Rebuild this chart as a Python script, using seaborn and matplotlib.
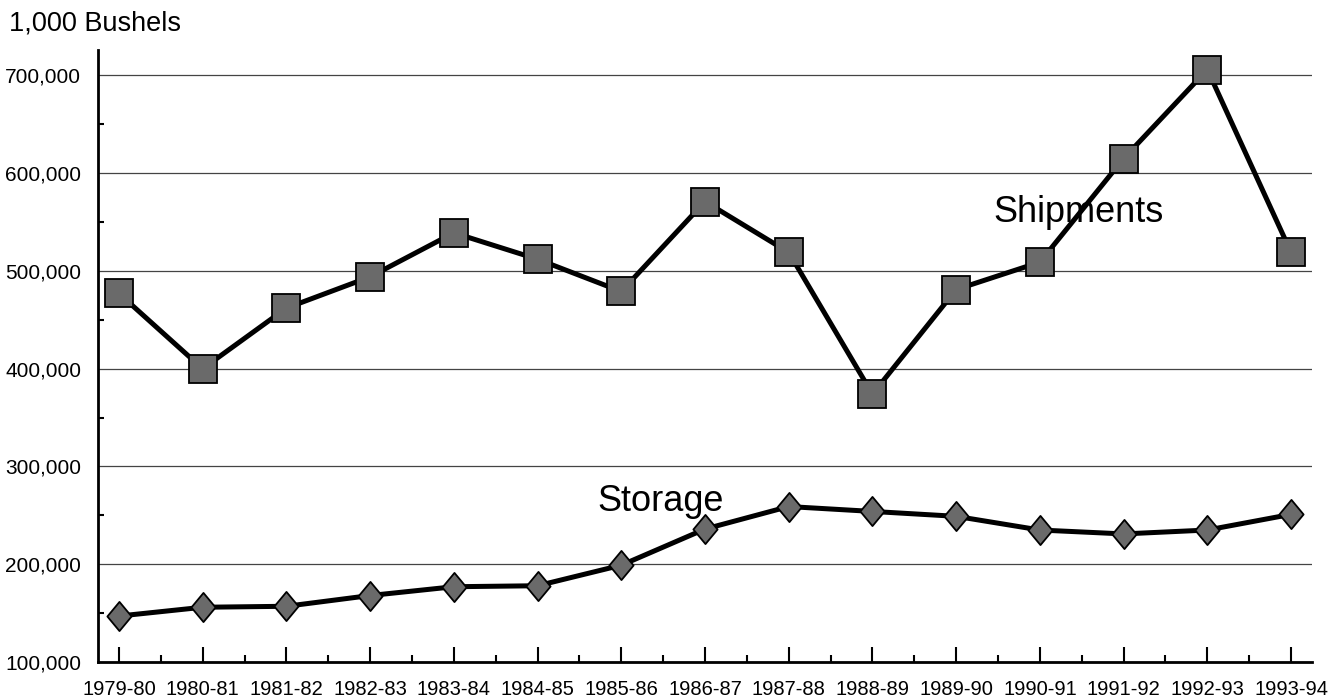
import matplotlib
matplotlib.use("Agg")
import matplotlib.pyplot as plt
import matplotlib.ticker as mticker
from matplotlib.path import Path
import seaborn as sns
import pandas as pd

seasons = ["1979-80", "1980-81", "1981-82", "1982-83", "1983-84", "1984-85",
           "1985-86", "1986-87", "1987-88", "1988-89", "1989-90", "1990-91",
           "1991-92", "1992-93", "1993-94"]
shipments = [477000, 400000, 462000, 494000, 539000, 512000, 479000, 571000,
             519000, 374000, 481000, 509000, 615000, 706000, 519000]
storage = [147000, 156000, 157000, 168000, 177000, 178000, 199000, 236000,
           259000, 254000, 249000, 235000, 231000, 235000, 251000]
y_ticks = [100000, 200000, 300000, 400000, 500000, 600000, 700000]

sns.set_theme(style="white")
plt.rcParams["font.family"] = ["Liberation Sans", "DejaVu Sans"]

df_ship = pd.DataFrame({"season": seasons, "value": shipments})
df_stor = pd.DataFrame({"season": seasons, "value": storage})

fig = plt.figure(figsize=(13.44, 7.0), dpi=100)
ax = fig.add_axes([98 / 1344, 1 - 662 / 700, (1312 - 98) / 1344, (662 - 50) / 700])

fill = "#6a6a6a"
sns.lineplot(data=df_ship, x="season", y="value", ax=ax, color="black",
             linewidth=3.6, marker="s", markersize=20, markerfacecolor=fill,
             markeredgecolor="black", markeredgewidth=1.3, zorder=3)

diamond = Path([(0, 1), (0.83, 0), (0, -1), (-0.83, 0), (0, 1)],
               [Path.MOVETO, Path.LINETO, Path.LINETO, Path.LINETO, Path.CLOSEPOLY])
sns.lineplot(data=df_stor, x="season", y="value", ax=ax, color="black",
             linewidth=3.6, marker=diamond, markersize=21, markerfacecolor=fill,
             markeredgecolor="black", markeredgewidth=1.3, zorder=3)

ax.set_xlim(-0.25, len(seasons) - 0.75)
ax.set_ylim(100000, 726000)
ax.set_yticks(y_ticks)
ax.yaxis.set_major_formatter(mticker.FuncFormatter(lambda v, p: f"{int(v):,}"))
ax.yaxis.set_minor_locator(mticker.FixedLocator([t + 50000 for t in y_ticks]))
ax.xaxis.set_minor_locator(mticker.FixedLocator([i + 0.5 for i in range(len(seasons) - 1)]))

ax.set_xlabel("")
ax.set_ylabel("")
ax.grid(axis="y", color="#444444", linewidth=0.9)
ax.grid(axis="x", visible=False)

for s in ["top", "right"]:
    ax.spines[s].set_visible(False)
for s in ["left", "bottom"]:
    ax.spines[s].set_color("black")
    ax.spines[s].set_linewidth(2)

ax.tick_params(axis="x", which="major", direction="in", length=11, width=1.5,
               color="black", labelsize=14.5, pad=13, bottom=True)
ax.tick_params(axis="x", which="minor", direction="in", length=5, width=1.5,
               color="black", bottom=True)
ax.tick_params(axis="y", which="major", direction="in", length=0,
               labelsize=15, pad=12, left=True)
ax.tick_params(axis="y", which="minor", direction="in", length=4, width=1.5,
               color="black", left=True)
for lab in ax.get_xticklabels() + ax.get_yticklabels():
    lab.set_color("black")

ax.text(10.44, 550000, "Shipments", fontsize=26, color="black", va="baseline", ha="left", zorder=4)
ax.text(5.72, 254000, "Storage", fontsize=26, color="black", va="baseline", ha="left", zorder=4)

fig.text(9 / 1344, 1 - 30 / 700, "1,000 Bushels", fontsize=19.5, color="black",
         va="baseline", ha="left")

fig.savefig("out.png", dpi=100, facecolor="white")
